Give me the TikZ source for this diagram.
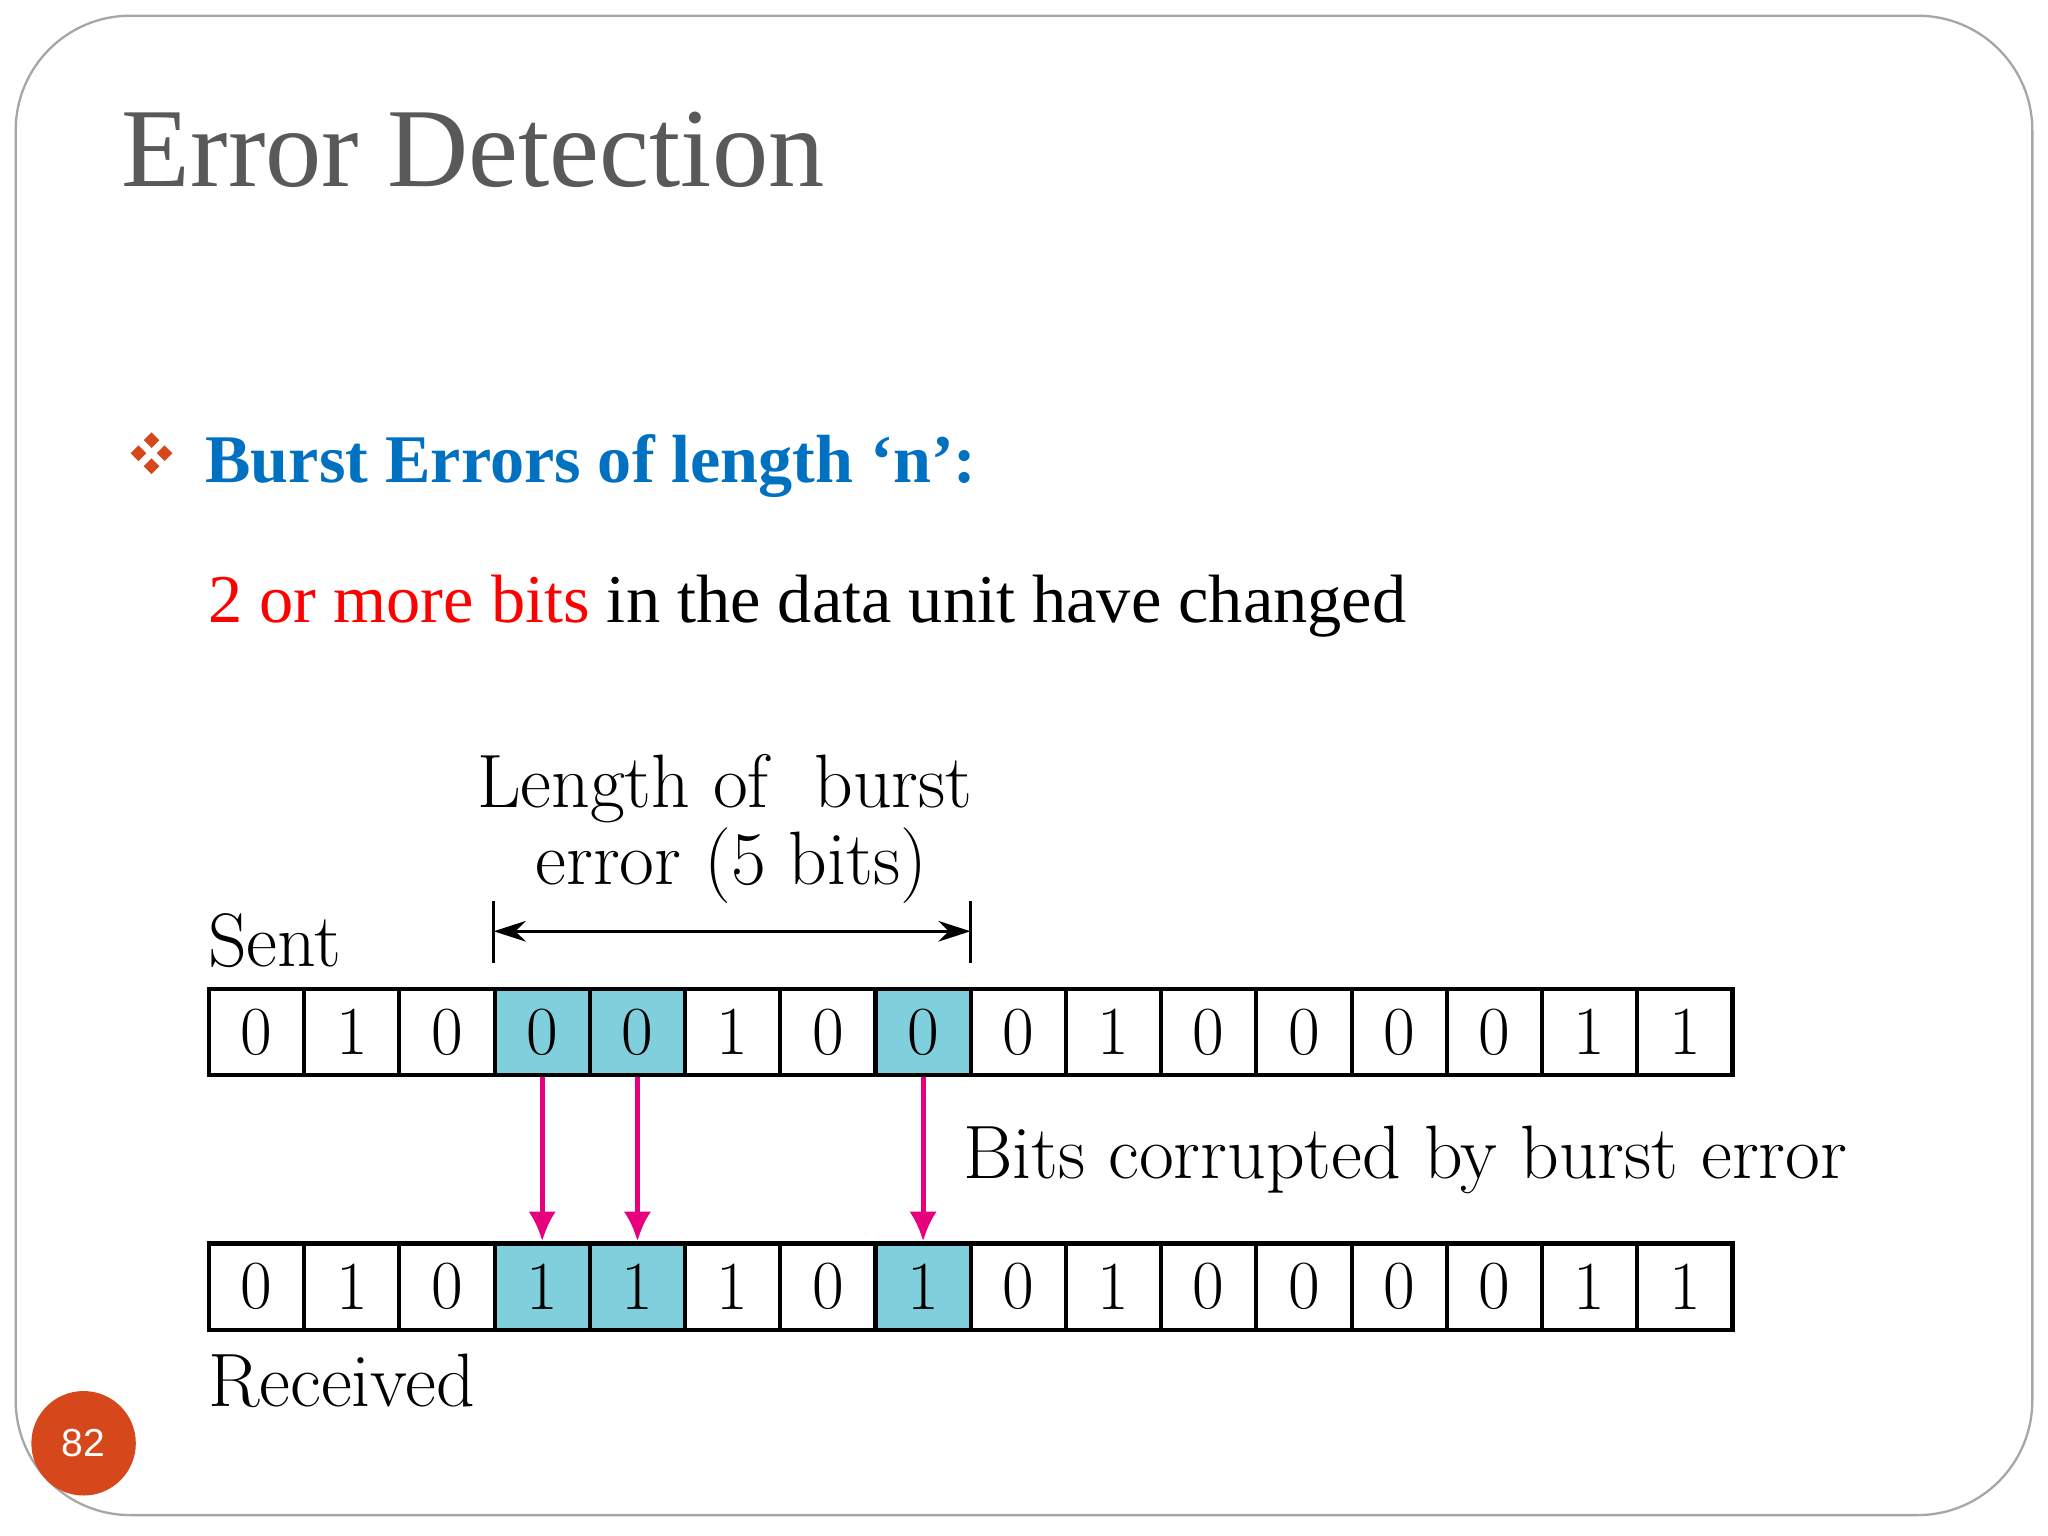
\documentclass[tikz,border=0pt]{standalone}
\usepackage{fontspec}
\setmainfont{Liberation Serif}
\newfontfamily\dg{Latin Modern Roman}
\newfontfamily\sa{Liberation Sans}
\definecolor{cellblue}{HTML}{7FCFDC}
\definecolor{mag}{HTML}{E6007E}
\definecolor{orng}{HTML}{D6481C}
\definecolor{ttl}{HTML}{595959}
\definecolor{blu}{HTML}{0070C0}
\begin{document}
\begin{tikzpicture}[x=0.02cm,y=-0.02cm,
  cell/.style={draw,line width=1.8pt,minimum width=72.9*0.02cm,minimum height=66*0.02cm,inner sep=0,font=\dg\fontsize{30}{30}\selectfont},
  hot/.style={cell,fill=cellblue},
  arr/.style={mag,line width=2.2pt,-{Latex[length=13pt,width=12pt]}},
  lbl/.style={font=\dg\fontsize{33}{33}\selectfont,inner sep=0}]
\useasboundingbox (0,0) rectangle (1568,1176);
\usetikzlibrary{arrows.meta}
\draw[gray!70,line width=1pt,rounded corners=50] (12,12) rectangle (1556,1160);
\node[anchor=west,text=ttl,font=\fontsize{49}{55}\selectfont,inner sep=0] (title) at (93,115) {Error Detection};
% bullet
\foreach \dx/\dy in {0/-10,-10/0,10/0,0/10}
  \fill[orng] (116+\dx,347+\dy) +(0,-6) -- +(6,0) -- +(0,6) -- +(-6,0) -- cycle;
\node[anchor=west,text=blu,font=\bfseries\fontsize{29.7}{34}\selectfont,inner sep=0] (bt) at (157,357) {Burst Errors of length ‘n’:};
\node[anchor=west,font=\fontsize{29.8}{34}\selectfont,inner sep=0] (l2) at (159,464) {\textcolor{red}{2 or more bits} in the data unit have changed};
% rows
\foreach \b [count=\i from 0] in {0,1,0,0,0,1,0,0,0,1,0,0,0,0,1,1}{
  \pgfmathtruncatemacro\h{(\i==3||\i==4||\i==7)?1:0}
  \ifnum\h=1 \node[hot] (s\i) at (160+36.45+72.9*\i,790) {\b};
  \else \node[cell] (s\i) at (160+36.45+72.9*\i,790) {\b};\fi}
\foreach \b [count=\i from 0] in {0,1,0,1,1,1,0,1,0,1,0,0,0,0,1,1}{
  \pgfmathtruncatemacro\h{(\i==3||\i==4||\i==7)?1:0}
  \ifnum\h=1 \node[hot] (r\i) at (160+36.45+72.9*\i,985) {\b};
  \else \node[cell] (r\i) at (160+36.45+72.9*\i,985) {\b};\fi}
\foreach \i in {3,4,7} \draw[arr] (s\i.south) -- (r\i.north);
\node[lbl,anchor=south west] (sent) at (159,741) {Sent};
\node[lbl,anchor=north west] (recv) at (159,1036) {Received};
\node[lbl,anchor=west] (bc) at (737,888) {Bits corrupted by burst error};
\node[lbl,anchor=base] (len1) at (555,618) {Length of\ \ burst};
\node[lbl,anchor=base] (len2) at (560,677) {error (5 bits)};
\coordinate (a1) at (378,713); \coordinate (a2) at (743,713);
\draw[line width=1.4pt] (378,690) -- (378,737) (743,690) -- (743,737);
\draw[line width=1.4pt,{Stealth[length=14pt,width=9pt]}-{Stealth[length=14pt,width=9pt]}] (a1) -- (a2);
\fill[orng] (64,1105) circle (40);
\node[white,font=\sa\fontsize{17}{20}\selectfont] (pn) at (64,1105) {82};
\end{tikzpicture}
\end{document}
